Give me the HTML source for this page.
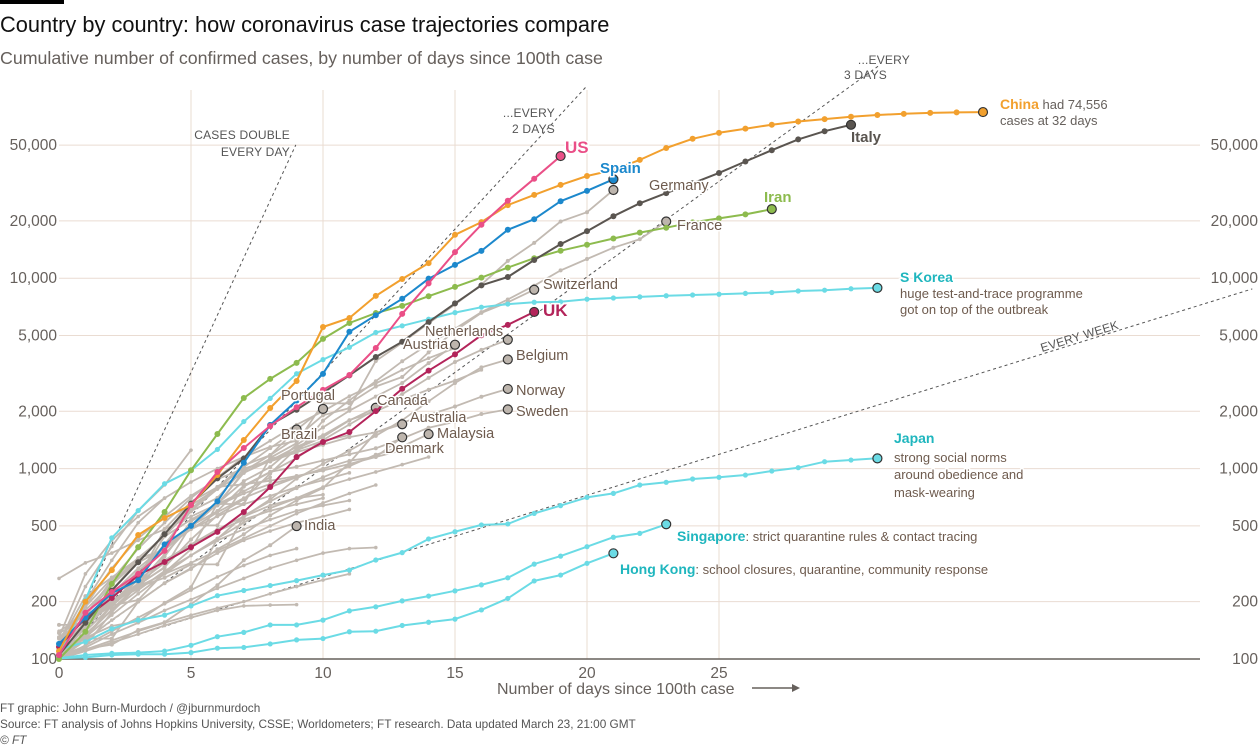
<!DOCTYPE html>
<html><head><meta charset="utf-8">
<style>
html,body{margin:0;padding:0;background:#fff;}
svg{display:block;font-family:"Liberation Sans",sans-serif;}
.tk{font-size:15.5px;fill:#66605c;}
.lb{font-size:14.5px;fill:#6e5b4e;paint-order:stroke;stroke:#fff;stroke-width:3px;stroke-linejoin:round;}
.nt{font-size:13px;fill:#6e5b4e;paint-order:stroke;stroke:#fff;stroke-width:3px;stroke-linejoin:round;}
.bd{font-weight:bold;font-size:15px;paint-order:stroke;stroke:#fff;stroke-width:3px;}
.an{font-size:12px;fill:#555;letter-spacing:0.2px;}
.ft{font-size:11.8px;fill:#555;}
</style></head>
<body>
<svg id="chart" width="1260" height="747" viewBox="0 0 1260 747">
<rect x="0" y="0" width="64" height="4" fill="#000"/>
<text x="0" y="32" font-size="21.8" fill="#111">Country by country: how coronavirus case trajectories compare</text>
<text x="0" y="64" font-size="17.8" fill="#66605c">Cumulative number of confirmed cases, by number of days since 100th case</text>
<g id="grid"></g>
<g id="refs"></g>
<g id="greys"></g>
<g id="hl"></g>
<g id="labels">
<text class="bd" x="565" y="153" fill="#ea4f87" style="font-size:17px">US</text>
<text class="bd" x="600" y="173" fill="#1c88cc">Spain</text>
<text class="lb" x="649" y="190">Germany</text>
<text class="bd" x="764" y="202" fill="#8dbb4e">Iran</text>
<text class="lb" x="677" y="230">France</text>
<text class="bd" x="851" y="142" fill="#5a5550">Italy</text>
<text x="1000" y="109" font-size="14"><tspan font-weight="bold" fill="#f2a02e">China</tspan><tspan fill="#66605c" font-size="13"> had 74,556</tspan></text>
<text x="1000" y="125" font-size="13" fill="#66605c">cases at 32 days</text>
<text class="bd" x="900" y="282" fill="#1fb6be" style="font-size:14px">S Korea</text>
<text class="nt" x="900" y="298">huge test-and-trace programme</text>
<text class="nt" x="900" y="314">got on top of the outbreak</text>
<text class="lb" x="543" y="289">Switzerland</text>
<text class="bd" x="543" y="316" fill="#b3245a" style="font-size:17px">UK</text>
<text class="lb" x="425" y="336">Netherlands</text>
<text class="lb" x="403" y="349">Austria</text>
<text class="lb" x="516" y="360">Belgium</text>
<text class="lb" x="516" y="395">Norway</text>
<text class="lb" x="516" y="416">Sweden</text>
<text class="lb" x="281" y="400">Portugal</text>
<text class="lb" x="377" y="405">Canada</text>
<text class="lb" x="410" y="422">Australia</text>
<text class="lb" x="281" y="439">Brazil</text>
<text class="lb" x="437" y="438">Malaysia</text>
<text class="lb" x="385" y="453">Denmark</text>
<text class="lb" x="304" y="530">India</text>
<text class="bd" x="894" y="443" fill="#1fb6be" style="font-size:14px">Japan</text>
<text class="nt" x="894" y="462">strong social norms</text>
<text class="nt" x="894" y="479">around obedience and</text>
<text class="nt" x="894" y="497">mask-wearing</text>
<text x="677" y="541" font-size="13"><tspan font-weight="bold" font-size="14" fill="#1fb6be">Singapore</tspan><tspan fill="#6e5b4e">: strict quarantine rules &amp; contact tracing</tspan></text>
<text x="620" y="574" font-size="13"><tspan font-weight="bold" font-size="14" fill="#1fb6be">Hong Kong</tspan><tspan fill="#6e5b4e">: school closures, quarantine, community response</tspan></text>
</g>
<g>
<text class="an" x="290" y="139" text-anchor="end">CASES DOUBLE</text>
<text class="an" x="290" y="156" text-anchor="end">EVERY DAY</text>
<text class="an" x="555" y="117" text-anchor="end">...EVERY</text>
<text class="an" x="555" y="133" text-anchor="end">2 DAYS</text>
<text class="an" x="910" y="64" text-anchor="end">...EVERY</text>
<text class="an" x="887" y="79" text-anchor="end">3 DAYS</text>
<text class="an" x="1042" y="352" transform="rotate(-17 1042 352)">EVERY WEEK</text>
</g>
<text x="497" y="694" font-size="16" fill="#66605c">Number of days since 100th case</text>
<line x1="752" y1="688" x2="792" y2="688" stroke="#66605c" stroke-width="1.5"/>
<polygon points="792,684 800,688 792,692" fill="#66605c"/>
<text class="ft" x="0" y="712">FT graphic: John Burn-Murdoch / @jburnmurdoch</text>
<text class="ft" x="0" y="728">Source: FT analysis of Johns Hopkins University, CSSE; Worldometers; FT research. Data updated March 23, 21:00 GMT</text>
<text class="ft" x="0" y="744" font-style="italic">© FT</text>
</svg>
<script>
const yTicks = [100, 200, 500, 1000, 2000, 5000, 10000, 20000, 50000];
const yTickLabels = ["100", "200", "500", "1,000", "2,000", "5,000", "10,000", "20,000", "50,000"];
const xTicks = [0, 5, 10, 15, 20, 25];

const china = [110,200,293,448,550,644,925,1413,2080,2884,5540,6180,8070,9900,12000,16900,19700,24200,27400,30900,34400,37000,41800,48300,54000,58000,61000,64000,66500,68500,70500,72000,73000,73800,74300,74556];
const italy = [105,155,229,322,453,655,888,1128,1694,2036,2502,3089,3858,4636,5883,7375,9172,10149,12462,15113,17660,21157,24747,27980,31506,35713,41035,47021,53578,59138,63927];
const spain = [120,165,222,259,400,500,673,1073,1695,2277,3146,5232,6391,7798,9942,11748,13910,17963,20410,25374,28768,33089];
const us = [105,175,225,280,370,644,960,1283,1675,2100,2590,3100,4300,6500,9400,13700,19100,25500,33300,43800];
const iran = [100,139,248,387,592,980,1520,2350,2960,3590,4800,5820,6560,7160,8040,9000,10075,11364,12729,13938,14991,16169,17361,18407,19644,20610,21638,23049];
const skorea = [104,204,433,602,833,977,1261,1766,2337,3150,3736,4335,5186,5621,6088,6593,7041,7314,7478,7513,7755,7869,7979,8086,8162,8236,8320,8413,8565,8652,8799,8897];
const uk = [116,164,209,276,323,387,465,592,800,1150,1380,1556,2005,2626,3269,3983,5018,5683,6650];
const japan = [112,123,144,160,170,190,215,229,243,258,276,293,331,362,427,466,506,512,582,639,706,741,820,847,882,900,925,971,1011,1087,1109,1132];
const singapore = [101,105,107,108,110,118,131,138,151,151,160,179,188,202,214,228,245,267,315,347,389,436,457,510];
const hongkong = [101,102,105,106,106,108,114,115,120,126,128,139,140,150,156,162,181,208,257,276,318,359];

const germany = [130,159,196,262,482,670,799,1040,1176,1457,1908,2078,3675,4585,5795,7272,9257,12327,15320,19848,22213,29056];
const france = [100,130,191,204,285,377,653,949,1126,1209,1784,2281,2876,3661,4499,5423,6633,7730,9134,10995,12612,14459,16018,19856];
const switzerland = [120,214,268,337,374,491,652,652,1139,1359,2200,2200,2700,3028,4075,5294,6575,7474,8700];
const netherlands = [128,188,265,321,382,503,503,804,959,1135,1413,1705,2051,2460,2994,3631,4204,4749];
const austria = [104,131,182,246,302,504,655,860,1018,1332,1646,2013,2388,2814,3582,4474];
const belgium = [109,169,200,239,267,314,314,559,689,886,1058,1243,1486,1795,2257,2815,3401,3743];
const norway = [113,169,192,277,400,598,702,996,1090,1221,1333,1463,1550,1746,1914,2118,2385,2621];
const sweden = [137,161,203,248,355,500,599,814,961,1022,1103,1190,1279,1439,1639,1763,1934,2046];
const canada = [103,117,176,244,304,424,569,690,943,1277,1466,1791,2088];
const portugal = [112,169,245,331,448,642,785,1020,1280,1600,2060];
const brazil = [151,151,200,234,346,529,640,970,1178,1604];
const australia = [107,128,128,200,250,297,377,452,568,681,791,1071,1549,1709];
const malaysia = [117,129,149,158,197,238,428,566,673,790,900,1030,1183,1306,1518];
const denmark = [113,156,190,262,442,615,801,827,864,914,977,1057,1151,1460];
const india = [102,113,119,142,156,194,244,330,396,499];

const other1 = [120,240,390,600,820,1250];
const other2 = [265,320,360,420,480,560,650,760,900];
const other3 = [130,280,420,560,700,850,1000,1150,1300,1400];
const other4 = [110,190,300,430,560,720,880,1000,1100,1250,1400,1500];
const other5 = [105,150,210,290,380,480,590,700,800,900,1000,1100,1150,1250];
const other6 = [100,140,190,250,320,400,480,560,640,700,730];
const other7 = [100,125,160,200,250,300,360,420,470,520,560,610];
const other8 = [100,118,140,165,195,230,270,310,350,380];
const other9 = [100,115,135,155,180,205,235,265,300,330,360,380,385];
const other10 = [100,112,125,140,155,170,185,200,220,240,260,280];
const other11 = [100,110,122,135,150,165,180,190,192,193];
const other12 = [140,170,200,240,280,320,370,430,500,580,660,740,820];
const other13 = [100,160,230,330,450,600,780,950,1100,1300,1500,1800,2000,2300,2600,2900,3300];
const other14 = [110,170,260,380,520,700,900,1150,1400,1700,2000,2400,2800,3300,3800,4300];
const other15 = [100,150,220,300,390,480,560,650,720,800,870,950];
const other16 = [100,130,170,220,280,350,430,520,620,700,800,880,960,1050,1150];
const other17 = [120,180,250,340,440,540,640,740,830,900];
const other18 = [100,135,180,230,290,350,420,480,540,600,640,680];
const other19 = [105,145,200,260,330,400,470,540,600,650,700];
const other20 = [115,200,330,520,700];

const NS = "http://www.w3.org/2000/svg";
const X0 = 59, DX = 26.4, Y0 = 659, DEC = 190.4;
function xs(d){ return X0 + d * DX; }
function ys(v){ return Y0 - DEC * Math.log10(v / 100); }
function mk(tag, attrs, parent){ const e = document.createElementNS(NS, tag); for (const k in attrs) e.setAttribute(k, attrs[k]); parent.appendChild(e); return e; }

const grid = document.getElementById('grid');
yTicks.forEach((v, i) => {
  const ln = mk('line', {x1: X0, x2: 1200, y1: ys(v), y2: ys(v), stroke: '#eadcd2', 'stroke-width': 1}, grid);
  
  
  const t1 = mk('text', {x: 57, y: ys(v) + 5, 'text-anchor': 'end', class: 'tk'}, grid);
  t1.textContent = yTickLabels[i];
  
  
  const t2 = mk('text', {x: 1258, y: ys(v) + 5, 'text-anchor': 'end', class: 'tk'}, grid);
  t2.textContent = yTickLabels[i];
  
  
});
xTicks.forEach(d => {
  if (d > 0) {
    const ln = mk('line', {x1: xs(d), x2: xs(d), y1: 90, y2: Y0, stroke: '#eadcd2', 'stroke-width': 1}, grid);
    
    
  }
  const t = mk('text', {x: xs(d), y: 678, 'text-anchor': 'middle', class: 'tk'}, grid);
  t.textContent = String(d);
  
  
});
const ax = mk('line', {x1: X0, x2: 1200, y1: Y0, y2: Y0, stroke: '#66605c', 'stroke-width': 1.5}, grid);



// doubling reference lines (guides, not data)
const refs = document.getElementById('refs');
[[1, 8.97], [2, 20.0], [3, 31.1], [7, 45.2]].forEach(([k, dEnd]) => {
  const v = 100 * Math.pow(2, dEnd / k);
  const ln = mk('line', {x1: X0, y1: Y0, x2: xs(dEnd), y2: ys(v), stroke: '#555', 'stroke-width': 1, 'stroke-dasharray': '3,3'}, refs);
  
  
});

function drawSeries(parent, vals, color, w, r, name, endDot) {
  const pts = vals.map((v, i) => xs(i).toFixed(1) + ',' + ys(v).toFixed(1)).join(' ');
  const pl = mk('polyline', {points: pts, fill: 'none', stroke: color, 'stroke-width': w, 'stroke-linejoin': 'round'}, parent);
  
  
  vals.forEach((v, i) => {
    if (i === vals.length - 1 && endDot) return;
    const c = mk('circle', {cx: xs(i), cy: ys(v), r: r, fill: color}, parent);
    
    
  });
  if (endDot) {
    const last = vals.length - 1;
    const c = mk('circle', {cx: xs(last), cy: ys(vals[last]), r: 4.5, fill: endDot, stroke: '#333', 'stroke-width': 1.2}, parent);
    
    
  }
}

const greys = document.getElementById('greys');
const GR = '#c2bab2';
[other1,other2,other3,other4,other5,other6,other7,other8,other9,other10,other11,other12,other13,other14,other15,other16,other17,other18,other19,other20].forEach((s, i) => drawSeries(greys, s, GR, 1.8, 1.8, 'other-country-' + (i + 1), null));
const namedGreys = [[germany,'germany'],[france,'france'],[switzerland,'switzerland'],[netherlands,'netherlands'],[austria,'austria'],[belgium,'belgium'],[norway,'norway'],[sweden,'sweden'],[canada,'canada'],[portugal,'portugal'],[brazil,'brazil'],[australia,'australia'],[malaysia,'malaysia'],[denmark,'denmark'],[india,'india']];
namedGreys.forEach(([s, n]) => drawSeries(greys, s, GR, 1.8, 2, n, '#bdb5ad'));

const hl = document.getElementById('hl');
const CY = '#6bdbe5';
drawSeries(hl, hongkong, CY, 2, 2.6, 'hong-kong', CY);
drawSeries(hl, singapore, CY, 2, 2.6, 'singapore', CY);
drawSeries(hl, japan, CY, 2, 2.6, 'japan', CY);
drawSeries(hl, skorea, CY, 2, 2.6, 's-korea', CY);
drawSeries(hl, uk, '#b3245a', 2, 3, 'uk', '#b3245a');
drawSeries(hl, iran, '#8dbb4e', 2, 3, 'iran', '#8dbb4e');
drawSeries(hl, italy, '#5a5550', 2, 3, 'italy', '#5a5550');
drawSeries(hl, spain, '#1c88cc', 2, 3, 'spain', '#1c88cc');
drawSeries(hl, china, '#f2a02e', 2, 3, 'china', '#f2a02e');
drawSeries(hl, us, '#ea4f87', 2, 3, 'us', '#ea4f87');
</script>
</body></html>
